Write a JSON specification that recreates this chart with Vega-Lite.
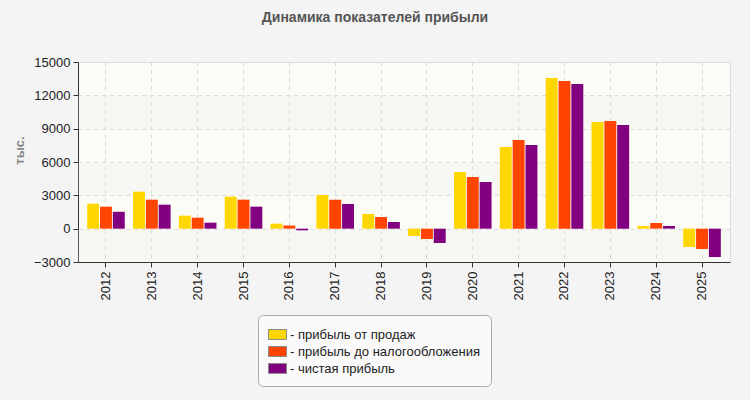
{
  "$schema": "https://vega.github.io/schema/vega-lite/v6.json",
  "autosize": {"type": "none"},
  "width": 652,
  "height": 200,
  "padding": {"left": 78, "top": 62, "right": 20, "bottom": 138},
  "background": "#f4f4f4",
  "title": {
    "text": "Динамика показателей прибыли",
    "font": "Liberation Sans",
    "fontSize": 14,
    "fontWeight": "bold",
    "color": "#555555",
    "anchor": "middle",
    "dx": -29,
    "offset": 31
  },
  "config": {
    "font": "Liberation Sans",
    "view": {"stroke": "#dddddd", "fill": "#fcfcf6"},
    "axis": {
      "labelFont": "Liberation Sans",
      "labelFontSize": 13,
      "labelColor": "#222222",
      "domainColor": "#333333",
      "tickColor": "#333333",
      "tickSize": 5,
      "gridColor": "#d9d9d9",
      "gridDash": [4, 4],
      "gridWidth": 1
    },
    "legend": {
      "labelFont": "Liberation Sans",
      "labelFontSize": 13,
      "labelColor": "#222222",
      "labelLimit": 400
    }
  },
  "datasets": {
    "profit": [
      {"year": "2012", "series": "прибыль от продаж", "value": 2250},
      {"year": "2012", "series": "прибыль до налогообложения", "value": 1980},
      {"year": "2012", "series": "чистая прибыль", "value": 1520},
      {"year": "2013", "series": "прибыль от продаж", "value": 3330},
      {"year": "2013", "series": "прибыль до налогообложения", "value": 2610},
      {"year": "2013", "series": "чистая прибыль", "value": 2160},
      {"year": "2014", "series": "прибыль от продаж", "value": 1170},
      {"year": "2014", "series": "прибыль до налогообложения", "value": 990},
      {"year": "2014", "series": "чистая прибыль", "value": 540},
      {"year": "2015", "series": "прибыль от продаж", "value": 2880},
      {"year": "2015", "series": "прибыль до налогообложения", "value": 2610},
      {"year": "2015", "series": "чистая прибыль", "value": 1980},
      {"year": "2016", "series": "прибыль от продаж", "value": 450},
      {"year": "2016", "series": "прибыль до налогообложения", "value": 280},
      {"year": "2016", "series": "чистая прибыль", "value": -150},
      {"year": "2017", "series": "прибыль от продаж", "value": 3030},
      {"year": "2017", "series": "прибыль до налогообложения", "value": 2600},
      {"year": "2017", "series": "чистая прибыль", "value": 2220},
      {"year": "2018", "series": "прибыль от продаж", "value": 1320},
      {"year": "2018", "series": "прибыль до налогообложения", "value": 1050},
      {"year": "2018", "series": "чистая прибыль", "value": 600},
      {"year": "2019", "series": "прибыль от продаж", "value": -650},
      {"year": "2019", "series": "прибыль до налогообложения", "value": -930},
      {"year": "2019", "series": "чистая прибыль", "value": -1290},
      {"year": "2020", "series": "прибыль от продаж", "value": 5100},
      {"year": "2020", "series": "прибыль до налогообложения", "value": 4650},
      {"year": "2020", "series": "чистая прибыль", "value": 4200},
      {"year": "2021", "series": "прибыль от продаж", "value": 7350},
      {"year": "2021", "series": "прибыль до налогообложения", "value": 7980},
      {"year": "2021", "series": "чистая прибыль", "value": 7530},
      {"year": "2022", "series": "прибыль от продаж", "value": 13560},
      {"year": "2022", "series": "прибыль до налогообложения", "value": 13290},
      {"year": "2022", "series": "чистая прибыль", "value": 13020},
      {"year": "2023", "series": "прибыль от продаж", "value": 9600},
      {"year": "2023", "series": "прибыль до налогообложения", "value": 9690},
      {"year": "2023", "series": "чистая прибыль", "value": 9330},
      {"year": "2024", "series": "прибыль от продаж", "value": 240},
      {"year": "2024", "series": "прибыль до налогообложения", "value": 510},
      {"year": "2024", "series": "чистая прибыль", "value": 240},
      {"year": "2025", "series": "прибыль от продаж", "value": -1650},
      {"year": "2025", "series": "прибыль до налогообложения", "value": -1830},
      {"year": "2025", "series": "чистая прибыль", "value": -2550}
    ],
    "bands": [
      {"lo": -3000, "hi": 0},
      {"lo": 3000, "hi": 6000},
      {"lo": 9000, "hi": 12000}
    ]
  },
  "layer": [
    {
      "data": {"name": "bands"},
      "mark": {"type": "rect", "fill": "#e6e6e6", "opacity": 0.22},
      "encoding": {
        "y": {
          "field": "lo",
          "type": "quantitative",
          "scale": {"domain": [-3000, 15000], "nice": false},
          "axis": {
            "title": "тыс.",
            "titleFont": "Liberation Sans",
            "titleFontSize": 13,
            "titleFontWeight": "bold",
            "titleColor": "#888888",
            "titleAngle": -90,
            "titleAlign": "center",
            "titleBaseline": "middle",
            "titleX": -59,
            "titleY": 88,
            "values": [-3000, 0, 3000, 6000, 9000, 12000, 15000],
            "format": "d",
            "labelPadding": 3,
            "grid": true
          }
        },
        "y2": {"field": "hi"}
      }
    },
    {
      "data": {"name": "profit"},
      "mark": {"type": "bar"},
      "encoding": {
        "x": {
          "field": "year",
          "type": "nominal",
          "sort": null,
          "scale": {"paddingInner": 0.18},
          "axis": {"title": null, "labelAngle": -90, "grid": true, "labelPadding": 4}
        },
        "xOffset": {
          "field": "series",
          "type": "nominal",
          "sort": ["прибыль от продаж", "прибыль до налогообложения", "чистая прибыль"],
          "scale": {"paddingInner": 0.07}
        },
        "y": {
          "field": "value",
          "type": "quantitative",
          "scale": {"domain": [-3000, 15000], "nice": false},
          "axis": {
            "title": "тыс.",
            "titleFont": "Liberation Sans",
            "titleFontSize": 13,
            "titleFontWeight": "bold",
            "titleColor": "#888888",
            "titleAngle": -90,
            "titleAlign": "center",
            "titleBaseline": "middle",
            "titleX": -59,
            "titleY": 88,
            "values": [-3000, 0, 3000, 6000, 9000, 12000, 15000],
            "format": "d",
            "labelPadding": 3,
            "grid": true
          }
        },
        "color": {
          "field": "series",
          "type": "nominal",
          "sort": ["прибыль от продаж", "прибыль до налогообложения", "чистая прибыль"],
          "scale": {
            "domain": ["прибыль от продаж", "прибыль до налогообложения", "чистая прибыль"],
            "range": ["#ffd700", "#ff4500", "#800080"]
          },
          "legend": {
            "title": null,
            "orient": "none",
            "legendX": 180,
            "legendY": 253,
            "direction": "vertical",
            "padding": 10,
            "fillColor": "#fafafa",
            "strokeColor": "#aaaaaa",
            "cornerRadius": 5,
            "rowPadding": 0,
            "symbolType": "M-1,-0.55H1V0.55H-1Z",
            "symbolSize": 324,
            "symbolStrokeColor": "#888888",
            "symbolStrokeWidth": 1,
            "symbolOpacity": 1,
            "labelOffset": 3,
            "labelLimit": 400,
            "labelExpr": "'- ' + datum.label"
          }
        }
      }
    }
  ]
}
